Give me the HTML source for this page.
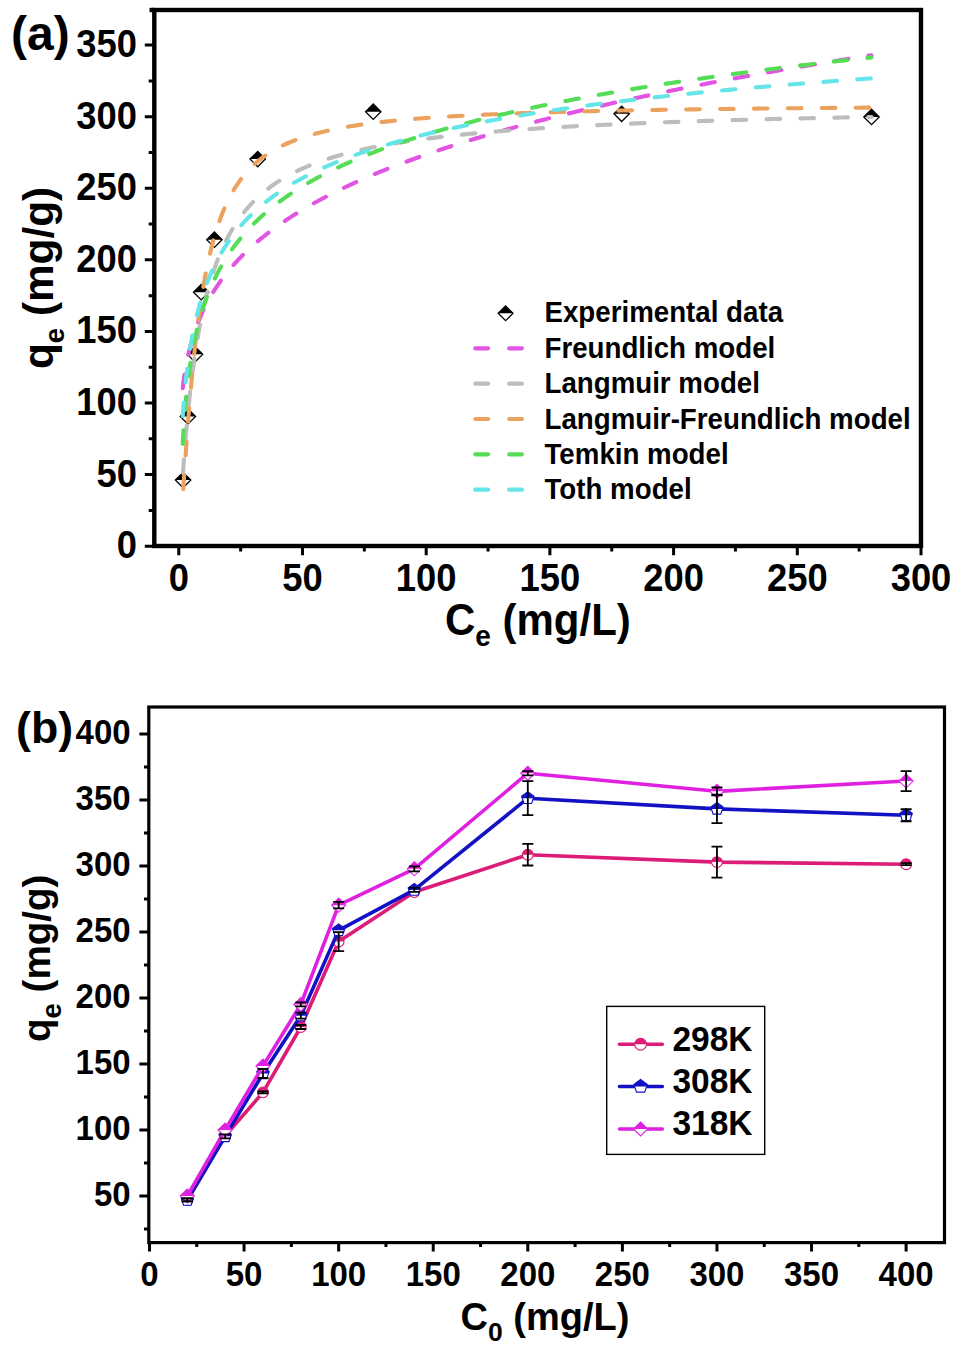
<!DOCTYPE html>
<html><head><meta charset="utf-8"><style>
html,body{margin:0;padding:0;background:#fff;}
svg{display:block;}
</style></head><body>
<svg width="968" height="1353" viewBox="0 0 968 1353" font-family="Liberation Sans, sans-serif" font-weight="bold">
<rect width="968" height="1353" fill="#fff"/>
<path d="M175.40,480.06 L183.10,472.36 L190.80,480.06 Z" fill="#000"/><path d="M175.40,480.06 L183.10,472.36 L190.80,480.06 L183.10,487.76 Z" fill="none" stroke="#000" stroke-width="1.3"/>
<path d="M180.20,416.49 L187.90,408.79 L195.60,416.49 Z" fill="#000"/><path d="M180.20,416.49 L187.90,408.79 L195.60,416.49 L187.90,424.19 Z" fill="none" stroke="#000" stroke-width="1.3"/>
<path d="M187.30,354.35 L195.00,346.65 L202.70,354.35 Z" fill="#000"/><path d="M187.30,354.35 L195.00,346.65 L202.70,354.35 L195.00,362.05 Z" fill="none" stroke="#000" stroke-width="1.3"/>
<path d="M193.49,292.22 L201.19,284.52 L208.89,292.22 Z" fill="#000"/><path d="M193.49,292.22 L201.19,284.52 L208.89,292.22 L201.19,299.92 Z" fill="none" stroke="#000" stroke-width="1.3"/>
<path d="M206.73,239.67 L214.43,231.97 L222.13,239.67 Z" fill="#000"/><path d="M206.73,239.67 L214.43,231.97 L222.13,239.67 L214.43,247.37 Z" fill="none" stroke="#000" stroke-width="1.3"/>
<path d="M250.02,159.07 L257.72,151.37 L265.42,159.07 Z" fill="#000"/><path d="M250.02,159.07 L257.72,151.37 L265.42,159.07 L257.72,166.77 Z" fill="none" stroke="#000" stroke-width="1.3"/>
<path d="M365.56,111.68 L373.26,103.98 L380.96,111.68 Z" fill="#000"/><path d="M365.56,111.68 L373.26,103.98 L380.96,111.68 L373.26,119.38 Z" fill="none" stroke="#000" stroke-width="1.3"/>
<path d="M613.95,113.83 L621.65,106.13 L629.35,113.83 Z" fill="#000"/><path d="M613.95,113.83 L621.65,106.13 L629.35,113.83 L621.65,121.53 Z" fill="none" stroke="#000" stroke-width="1.3"/>
<path d="M863.82,116.98 L871.52,109.28 L879.22,116.98 Z" fill="#000"/><path d="M863.82,116.98 L871.52,109.28 L879.22,116.98 L871.52,124.68 Z" fill="none" stroke="#000" stroke-width="1.3"/>
<g fill="none" stroke-width="4.1" stroke-linecap="round" stroke-dasharray="13.6 20.3">
<path d="M182.76,388.14 L182.82,387.63 L182.88,387.12 L182.94,386.60 L183.00,386.09 L183.06,385.57 L183.12,385.05 L183.19,384.53 L183.25,384.00 L183.32,383.48 L183.39,382.95 L183.45,382.42 L183.52,381.89 L183.59,381.36 L183.66,380.83 L183.74,380.29 L183.81,379.75 L183.88,379.22 L183.96,378.67 L184.04,378.13 L184.11,377.59 L184.19,377.04 L184.27,376.49 L184.35,375.95 L184.44,375.39 L184.52,374.84 L184.61,374.29 L184.69,373.73 L184.78,373.17 L184.87,372.61 L184.96,372.05 L185.05,371.49 L185.14,370.92 L185.24,370.35 L185.33,369.78 L185.43,369.21 L185.53,368.64 L185.63,368.06 L185.73,367.49 L185.83,366.91 L185.94,366.33 L186.04,365.75 L186.15,365.16 L186.26,364.57 L186.37,363.99 L186.48,363.40 L186.59,362.80 L186.71,362.21 L186.83,361.62 L186.95,361.02 L187.07,360.42 L187.19,359.82 L187.31,359.21 L187.44,358.61 L187.57,358.00 L187.70,357.39 L187.83,356.78 L187.97,356.17 L188.10,355.55 L188.24,354.93 L188.38,354.31 L188.52,353.69 L188.67,353.07 L188.81,352.44 L188.96,351.82 L189.11,351.19 L189.26,350.56 L189.42,349.92 L189.58,349.29 L189.74,348.65 L189.90,348.01 L190.06,347.37 L190.23,346.73 L190.40,346.08 L190.57,345.43 L190.75,344.78 L190.93,344.13 L191.11,343.48 L191.29,342.82 L191.47,342.16 L191.66,341.50 L191.85,340.84 L192.05,340.17 L192.24,339.50 L192.44,338.84 L192.64,338.16 L192.85,337.49 L193.06,336.81 L193.27,336.14 L193.48,335.46 L193.70,334.77 L193.92,334.09 L194.15,333.40 L194.38,332.71 L194.61,332.02 L194.84,331.33 L195.08,330.63 L195.32,329.94 L195.57,329.24 L195.81,328.53 L196.07,327.83 L196.32,327.12 L196.58,326.41 L196.85,325.70 L197.11,324.99 L197.39,324.27 L197.66,323.55 L197.94,322.83 L198.23,322.11 L198.51,321.38 L198.81,320.65 L199.10,319.92 L199.41,319.19 L199.71,318.46 L200.02,317.72 L200.34,316.98 L200.66,316.24 L200.98,315.49 L201.31,314.75 L201.64,314.00 L201.98,313.24 L202.33,312.49 L202.68,311.73 L203.03,310.97 L203.39,310.21 L203.75,309.45 L204.12,308.68 L204.50,307.91 L204.88,307.14 L205.27,306.37 L205.66,305.59 L206.06,304.81 L206.46,304.03 L206.87,303.25 L207.29,302.46 L207.71,301.67 L208.14,300.88 L208.58,300.08 L209.02,299.29 L209.47,298.49 L209.92,297.69 L210.39,296.88 L210.85,296.07 L211.33,295.26 L211.81,294.45 L212.30,293.64 L212.80,292.82 L213.30,292.00 L213.82,291.18 L214.34,290.35 L214.86,289.52 L215.40,288.69 L215.94,287.86 L216.49,287.02 L217.05,286.18 L217.62,285.34 L218.20,284.50 L218.78,283.65 L219.37,282.80 L219.98,281.95 L220.59,281.09 L221.21,280.23 L221.84,279.37 L222.47,278.51 L223.12,277.64 L223.78,276.77 L224.45,275.90 L225.13,275.02 L225.81,274.14 L226.51,273.26 L227.22,272.38 L227.94,271.49 L228.67,270.60 L229.41,269.71 L230.16,268.82 L230.92,267.92 L231.69,267.02 L232.48,266.11 L233.27,265.21 L234.08,264.30 L234.90,263.38 L235.73,262.47 L236.58,261.55 L237.44,260.63 L238.31,259.70 L239.19,258.78 L240.09,257.85 L241.00,256.91 L241.92,255.98 L242.85,255.04 L243.81,254.09 L244.77,253.15 L245.75,252.20 L246.74,251.25 L247.75,250.29 L248.77,249.33 L249.81,248.37 L250.87,247.41 L251.93,246.44 L253.02,245.47 L255.09,243.65 L257.16,241.87 L259.23,240.12 L261.29,238.41 L263.36,236.74 L265.43,235.09 L267.50,233.47 L269.57,231.89 L271.64,230.33 L273.71,228.80 L275.77,227.29 L277.84,225.81 L279.91,224.36 L281.98,222.92 L284.05,221.51 L286.12,220.12 L288.19,218.75 L290.25,217.40 L292.32,216.07 L294.39,214.76 L296.46,213.47 L298.53,212.20 L300.60,210.94 L302.67,209.70 L304.73,208.47 L306.80,207.26 L308.87,206.07 L310.94,204.89 L313.01,203.72 L315.08,202.57 L317.15,201.43 L319.21,200.31 L321.28,199.20 L323.35,198.10 L325.42,197.01 L327.49,195.93 L329.56,194.87 L331.63,193.82 L333.69,192.78 L335.76,191.75 L337.83,190.73 L339.90,189.72 L341.97,188.72 L344.04,187.73 L346.11,186.75 L348.17,185.78 L350.24,184.81 L352.31,183.86 L354.38,182.92 L356.45,181.98 L358.52,181.06 L360.59,180.14 L362.65,179.23 L364.72,178.33 L366.79,177.43 L368.86,176.55 L370.93,175.67 L373.00,174.79 L375.07,173.93 L377.13,173.07 L379.20,172.22 L381.27,171.38 L383.34,170.54 L385.41,169.71 L387.48,168.89 L389.55,168.07 L391.61,167.26 L393.68,166.45 L395.75,165.65 L397.82,164.86 L399.89,164.07 L401.96,163.29 L404.03,162.51 L406.09,161.74 L408.16,160.98 L410.23,160.22 L412.30,159.46 L414.37,158.72 L416.44,157.97 L418.50,157.23 L420.57,156.50 L422.64,155.77 L424.71,155.04 L426.78,154.32 L428.85,153.61 L430.92,152.90 L432.98,152.19 L435.05,151.49 L437.12,150.79 L439.19,150.10 L441.26,149.41 L443.33,148.73 L445.40,148.05 L447.46,147.37 L449.53,146.70 L451.60,146.03 L453.67,145.37 L455.74,144.71 L457.81,144.05 L459.88,143.40 L461.94,142.75 L464.01,142.11 L466.08,141.47 L468.15,140.83 L470.22,140.19 L472.29,139.56 L474.36,138.94 L476.42,138.31 L478.49,137.69 L480.56,137.07 L482.63,136.46 L484.70,135.85 L486.77,135.24 L488.84,134.64 L490.90,134.04 L492.97,133.44 L495.04,132.84 L497.11,132.25 L499.18,131.66 L501.25,131.08 L503.32,130.50 L505.38,129.91 L507.45,129.34 L509.52,128.76 L511.59,128.19 L513.66,127.62 L515.73,127.06 L517.80,126.49 L519.86,125.93 L521.93,125.37 L524.00,124.82 L526.07,124.27 L528.14,123.72 L530.21,123.17 L532.28,122.62 L534.34,122.08 L536.41,121.54 L538.48,121.00 L540.55,120.47 L542.62,119.93 L544.69,119.40 L546.76,118.87 L548.82,118.35 L550.89,117.82 L552.96,117.30 L555.03,116.78 L557.10,116.27 L559.17,115.75 L561.24,115.24 L563.30,114.73 L565.37,114.22 L567.44,113.71 L569.51,113.21 L571.58,112.71 L573.65,112.21 L575.72,111.71 L577.78,111.21 L579.85,110.72 L581.92,110.23 L583.99,109.74 L586.06,109.25 L588.13,108.76 L590.20,108.28 L592.26,107.80 L594.33,107.32 L596.40,106.84 L598.47,106.36 L600.54,105.89 L602.61,105.41 L604.68,104.94 L606.74,104.47 L608.81,104.01 L610.88,103.54 L612.95,103.08 L615.02,102.61 L617.09,102.15 L619.16,101.69 L621.22,101.24 L623.29,100.78 L625.36,100.33 L627.43,99.87 L629.50,99.42 L631.57,98.97 L633.64,98.53 L635.70,98.08 L637.77,97.64 L639.84,97.19 L641.91,96.75 L643.98,96.31 L646.05,95.87 L648.12,95.44 L650.18,95.00 L652.25,94.57 L654.32,94.14 L656.39,93.70 L658.46,93.28 L660.53,92.85 L662.60,92.42 L664.66,92.00 L666.73,91.57 L668.80,91.15 L670.87,90.73 L672.94,90.31 L675.01,89.89 L677.08,89.47 L679.14,89.06 L681.21,88.65 L683.28,88.23 L685.35,87.82 L687.42,87.41 L689.49,87.00 L691.56,86.59 L693.62,86.19 L695.69,85.78 L697.76,85.38 L699.83,84.98 L701.90,84.58 L703.97,84.18 L706.04,83.78 L708.10,83.38 L710.17,82.98 L712.24,82.59 L714.31,82.19 L716.38,81.80 L718.45,81.41 L720.51,81.02 L722.58,80.63 L724.65,80.24 L726.72,79.86 L728.79,79.47 L730.86,79.08 L732.93,78.70 L734.99,78.32 L737.06,77.94 L739.13,77.56 L741.20,77.18 L743.27,76.80 L745.34,76.42 L747.41,76.05 L749.47,75.67 L751.54,75.30 L753.61,74.93 L755.68,74.55 L757.75,74.18 L759.82,73.81 L761.89,73.45 L763.95,73.08 L766.02,72.71 L768.09,72.35 L770.16,71.98 L772.23,71.62 L774.30,71.26 L776.37,70.89 L778.43,70.53 L780.50,70.17 L782.57,69.81 L784.64,69.46 L786.71,69.10 L788.78,68.74 L790.85,68.39 L792.91,68.04 L794.98,67.68 L797.05,67.33 L799.12,66.98 L801.19,66.63 L803.26,66.28 L805.33,65.93 L807.39,65.58 L809.46,65.24 L811.53,64.89 L813.60,64.55 L815.67,64.20 L817.74,63.86 L819.81,63.52 L821.87,63.18 L823.94,62.84 L826.01,62.50 L828.08,62.16 L830.15,61.82 L832.22,61.48 L834.29,61.15 L836.35,60.81 L838.42,60.48 L840.49,60.14 L842.56,59.81 L844.63,59.48 L846.70,59.14 L848.77,58.81 L850.83,58.48 L852.90,58.15 L854.97,57.83 L857.04,57.50 L859.11,57.17 L861.18,56.85 L863.25,56.52 L865.31,56.20 L867.38,55.87 L869.45,55.55 L871.52,55.23" stroke="#E254E2"/>
<path d="M183.01,472.92 L183.07,472.03 L183.13,471.14 L183.19,470.23 L183.26,469.32 L183.32,468.40 L183.39,467.47 L183.45,466.53 L183.52,465.59 L183.59,464.63 L183.66,463.67 L183.73,462.70 L183.80,461.71 L183.87,460.72 L183.95,459.72 L184.02,458.72 L184.10,457.70 L184.17,456.67 L184.25,455.64 L184.33,454.60 L184.41,453.54 L184.49,452.48 L184.58,451.41 L184.66,450.33 L184.75,449.25 L184.83,448.15 L184.92,447.04 L185.01,445.93 L185.10,444.81 L185.19,443.68 L185.28,442.54 L185.38,441.39 L185.47,440.23 L185.57,439.06 L185.67,437.89 L185.77,436.70 L185.87,435.51 L185.97,434.31 L186.08,433.10 L186.18,431.88 L186.29,430.65 L186.40,429.42 L186.51,428.17 L186.62,426.92 L186.73,425.66 L186.85,424.39 L186.97,423.11 L187.08,421.83 L187.21,420.53 L187.33,419.23 L187.45,417.92 L187.58,416.60 L187.70,415.28 L187.83,413.94 L187.97,412.60 L188.10,411.25 L188.23,409.90 L188.37,408.53 L188.51,407.16 L188.65,405.78 L188.79,404.40 L188.94,403.00 L189.09,401.60 L189.24,400.19 L189.39,398.78 L189.54,397.36 L189.70,395.93 L189.86,394.50 L190.02,393.05 L190.18,391.61 L190.34,390.15 L190.51,388.69 L190.68,387.23 L190.86,385.75 L191.03,384.28 L191.21,382.79 L191.39,381.30 L191.57,379.81 L191.76,378.31 L191.94,376.80 L192.14,375.29 L192.33,373.78 L192.53,372.26 L192.73,370.73 L192.93,369.20 L193.13,367.67 L193.34,366.13 L193.55,364.59 L193.77,363.04 L193.98,361.49 L194.21,359.94 L194.43,358.38 L194.66,356.82 L194.89,355.26 L195.12,353.69 L195.36,352.12 L195.60,350.55 L195.84,348.97 L196.09,347.39 L196.34,345.81 L196.60,344.23 L196.85,342.65 L197.12,341.06 L197.38,339.47 L197.65,337.89 L197.93,336.29 L198.20,334.70 L198.49,333.11 L198.77,331.52 L199.06,329.92 L199.36,328.33 L199.66,326.73 L199.96,325.14 L200.27,323.54 L200.58,321.95 L200.89,320.35 L201.22,318.76 L201.54,317.16 L201.87,315.57 L202.21,313.98 L202.55,312.39 L202.89,310.80 L203.24,309.21 L203.60,307.62 L203.96,306.04 L204.32,304.46 L204.69,302.88 L205.07,301.30 L205.45,299.72 L205.84,298.15 L206.23,296.58 L206.63,295.01 L207.03,293.45 L207.45,291.89 L207.86,290.33 L208.28,288.77 L208.71,287.22 L209.15,285.68 L209.59,284.13 L210.03,282.59 L210.49,281.06 L210.95,279.53 L211.42,278.00 L211.89,276.48 L212.37,274.97 L212.86,273.46 L213.35,271.95 L213.86,270.45 L214.36,268.95 L214.88,267.46 L215.41,265.98 L215.94,264.50 L216.48,263.03 L217.02,261.56 L217.58,260.10 L218.14,258.64 L218.72,257.20 L219.30,255.75 L219.88,254.32 L220.48,252.89 L221.09,251.47 L221.70,250.05 L222.32,248.64 L222.96,247.24 L223.60,245.85 L224.25,244.46 L224.91,243.08 L225.58,241.71 L226.26,240.34 L226.95,238.98 L227.65,237.63 L228.36,236.29 L229.08,234.96 L229.81,233.63 L230.55,232.31 L231.30,231.00 L232.06,229.69 L232.84,228.40 L233.62,227.11 L234.42,225.83 L235.23,224.56 L236.05,223.30 L236.88,222.05 L237.72,220.80 L238.58,219.57 L239.45,218.34 L240.33,217.12 L241.22,215.91 L242.13,214.70 L243.05,213.51 L243.98,212.32 L244.93,211.15 L245.89,209.98 L246.87,208.82 L247.86,207.67 L248.86,206.52 L249.88,205.39 L250.91,204.27 L251.96,203.15 L253.02,202.05 L255.09,199.96 L257.16,197.96 L259.23,196.05 L261.29,194.21 L263.36,192.44 L265.43,190.74 L267.50,189.10 L269.57,187.53 L271.64,186.01 L273.71,184.54 L275.77,183.13 L277.84,181.76 L279.91,180.45 L281.98,179.17 L284.05,177.94 L286.12,176.75 L288.19,175.59 L290.25,174.47 L292.32,173.39 L294.39,172.33 L296.46,171.31 L298.53,170.32 L300.60,169.36 L302.67,168.43 L304.73,167.52 L306.80,166.63 L308.87,165.77 L310.94,164.94 L313.01,164.13 L315.08,163.33 L317.15,162.56 L319.21,161.81 L321.28,161.08 L323.35,160.36 L325.42,159.66 L327.49,158.98 L329.56,158.32 L331.63,157.67 L333.69,157.04 L335.76,156.42 L337.83,155.82 L339.90,155.23 L341.97,154.65 L344.04,154.09 L346.11,153.54 L348.17,153.00 L350.24,152.47 L352.31,151.95 L354.38,151.45 L356.45,150.95 L358.52,150.46 L360.59,149.99 L362.65,149.52 L364.72,149.07 L366.79,148.62 L368.86,148.18 L370.93,147.75 L373.00,147.33 L375.07,146.91 L377.13,146.51 L379.20,146.11 L381.27,145.72 L383.34,145.33 L385.41,144.96 L387.48,144.59 L389.55,144.22 L391.61,143.87 L393.68,143.52 L395.75,143.17 L397.82,142.83 L399.89,142.50 L401.96,142.17 L404.03,141.85 L406.09,141.53 L408.16,141.22 L410.23,140.92 L412.30,140.61 L414.37,140.32 L416.44,140.03 L418.50,139.74 L420.57,139.46 L422.64,139.18 L424.71,138.90 L426.78,138.63 L428.85,138.37 L430.92,138.11 L432.98,137.85 L435.05,137.60 L437.12,137.35 L439.19,137.10 L441.26,136.86 L443.33,136.62 L445.40,136.38 L447.46,136.15 L449.53,135.92 L451.60,135.70 L453.67,135.47 L455.74,135.25 L457.81,135.04 L459.88,134.82 L461.94,134.61 L464.01,134.40 L466.08,134.20 L468.15,134.00 L470.22,133.80 L472.29,133.60 L474.36,133.41 L476.42,133.21 L478.49,133.02 L480.56,132.84 L482.63,132.65 L484.70,132.47 L486.77,132.29 L488.84,132.11 L490.90,131.94 L492.97,131.76 L495.04,131.59 L497.11,131.42 L499.18,131.26 L501.25,131.09 L503.32,130.93 L505.38,130.77 L507.45,130.61 L509.52,130.45 L511.59,130.29 L513.66,130.14 L515.73,129.99 L517.80,129.84 L519.86,129.69 L521.93,129.54 L524.00,129.40 L526.07,129.25 L528.14,129.11 L530.21,128.97 L532.28,128.83 L534.34,128.69 L536.41,128.56 L538.48,128.42 L540.55,128.29 L542.62,128.16 L544.69,128.03 L546.76,127.90 L548.82,127.77 L550.89,127.65 L552.96,127.52 L555.03,127.40 L557.10,127.28 L559.17,127.16 L561.24,127.04 L563.30,126.92 L565.37,126.80 L567.44,126.69 L569.51,126.57 L571.58,126.46 L573.65,126.34 L575.72,126.23 L577.78,126.12 L579.85,126.01 L581.92,125.90 L583.99,125.80 L586.06,125.69 L588.13,125.59 L590.20,125.48 L592.26,125.38 L594.33,125.28 L596.40,125.18 L598.47,125.08 L600.54,124.98 L602.61,124.88 L604.68,124.78 L606.74,124.68 L608.81,124.59 L610.88,124.49 L612.95,124.40 L615.02,124.31 L617.09,124.21 L619.16,124.12 L621.22,124.03 L623.29,123.94 L625.36,123.85 L627.43,123.77 L629.50,123.68 L631.57,123.59 L633.64,123.51 L635.70,123.42 L637.77,123.34 L639.84,123.25 L641.91,123.17 L643.98,123.09 L646.05,123.01 L648.12,122.92 L650.18,122.84 L652.25,122.76 L654.32,122.69 L656.39,122.61 L658.46,122.53 L660.53,122.45 L662.60,122.38 L664.66,122.30 L666.73,122.23 L668.80,122.15 L670.87,122.08 L672.94,122.00 L675.01,121.93 L677.08,121.86 L679.14,121.79 L681.21,121.72 L683.28,121.65 L685.35,121.58 L687.42,121.51 L689.49,121.44 L691.56,121.37 L693.62,121.30 L695.69,121.23 L697.76,121.17 L699.83,121.10 L701.90,121.04 L703.97,120.97 L706.04,120.91 L708.10,120.84 L710.17,120.78 L712.24,120.72 L714.31,120.65 L716.38,120.59 L718.45,120.53 L720.51,120.47 L722.58,120.41 L724.65,120.35 L726.72,120.29 L728.79,120.23 L730.86,120.17 L732.93,120.11 L734.99,120.05 L737.06,119.99 L739.13,119.93 L741.20,119.88 L743.27,119.82 L745.34,119.76 L747.41,119.71 L749.47,119.65 L751.54,119.60 L753.61,119.54 L755.68,119.49 L757.75,119.43 L759.82,119.38 L761.89,119.33 L763.95,119.27 L766.02,119.22 L768.09,119.17 L770.16,119.12 L772.23,119.07 L774.30,119.02 L776.37,118.96 L778.43,118.91 L780.50,118.86 L782.57,118.81 L784.64,118.76 L786.71,118.72 L788.78,118.67 L790.85,118.62 L792.91,118.57 L794.98,118.52 L797.05,118.47 L799.12,118.43 L801.19,118.38 L803.26,118.33 L805.33,118.29 L807.39,118.24 L809.46,118.20 L811.53,118.15 L813.60,118.10 L815.67,118.06 L817.74,118.02 L819.81,117.97 L821.87,117.93 L823.94,117.88 L826.01,117.84 L828.08,117.80 L830.15,117.75 L832.22,117.71 L834.29,117.67 L836.35,117.63 L838.42,117.58 L840.49,117.54 L842.56,117.50 L844.63,117.46 L846.70,117.42 L848.77,117.38 L850.83,117.34 L852.90,117.30 L854.97,117.26 L857.04,117.22 L859.11,117.18 L861.18,117.14 L863.25,117.10 L865.31,117.06 L867.38,117.02 L869.45,116.98 L871.52,116.95" stroke="#BDBDBD"/>
<path d="M183.25,489.19 L183.32,488.26 L183.38,487.31 L183.45,486.34 L183.51,485.37 L183.58,484.37 L183.65,483.37 L183.72,482.35 L183.79,481.32 L183.86,480.28 L183.93,479.22 L184.00,478.15 L184.08,477.06 L184.15,475.96 L184.23,474.84 L184.31,473.72 L184.38,472.57 L184.46,471.41 L184.54,470.24 L184.63,469.06 L184.71,467.85 L184.79,466.64 L184.88,465.41 L184.96,464.16 L185.05,462.90 L185.14,461.63 L185.23,460.34 L185.32,459.03 L185.42,457.71 L185.51,456.38 L185.61,455.03 L185.70,453.66 L185.80,452.29 L185.90,450.89 L186.00,449.48 L186.10,448.06 L186.21,446.62 L186.31,445.16 L186.42,443.70 L186.53,442.21 L186.64,440.71 L186.75,439.20 L186.86,437.67 L186.98,436.13 L187.10,434.57 L187.21,433.00 L187.33,431.41 L187.45,429.81 L187.58,428.20 L187.70,426.57 L187.83,424.93 L187.96,423.27 L188.09,421.60 L188.22,419.91 L188.35,418.21 L188.49,416.50 L188.63,414.78 L188.77,413.04 L188.91,411.29 L189.05,409.52 L189.20,407.75 L189.35,405.96 L189.50,404.16 L189.65,402.34 L189.81,400.52 L189.96,398.68 L190.12,396.83 L190.28,394.97 L190.45,393.10 L190.61,391.22 L190.78,389.32 L190.95,387.42 L191.12,385.51 L191.30,383.59 L191.48,381.65 L191.66,379.71 L191.84,377.76 L192.03,375.80 L192.21,373.83 L192.41,371.86 L192.60,369.87 L192.80,367.88 L193.00,365.88 L193.20,363.88 L193.40,361.87 L193.61,359.85 L193.82,357.82 L194.04,355.79 L194.25,353.76 L194.47,351.72 L194.70,349.67 L194.92,347.62 L195.15,345.57 L195.38,343.51 L195.62,341.45 L195.86,339.39 L196.10,337.32 L196.35,335.26 L196.60,333.19 L196.85,331.12 L197.11,329.04 L197.37,326.97 L197.63,324.90 L197.90,322.83 L198.17,320.75 L198.45,318.68 L198.73,316.61 L199.01,314.54 L199.30,312.48 L199.59,310.41 L199.89,308.35 L200.19,306.29 L200.49,304.23 L200.80,302.18 L201.12,300.13 L201.43,298.09 L201.76,296.05 L202.08,294.01 L202.41,291.98 L202.75,289.96 L203.09,287.94 L203.44,285.93 L203.79,283.93 L204.14,281.93 L204.51,279.94 L204.87,277.96 L205.24,275.98 L205.62,274.01 L206.00,272.06 L206.39,270.11 L206.78,268.17 L207.18,266.24 L207.58,264.31 L207.99,262.40 L208.41,260.50 L208.83,258.61 L209.26,256.73 L209.69,254.86 L210.13,253.00 L210.58,251.16 L211.03,249.32 L211.49,247.50 L211.95,245.69 L212.43,243.89 L212.91,242.10 L213.39,240.32 L213.88,238.56 L214.38,236.81 L214.89,235.08 L215.40,233.35 L215.92,231.64 L216.45,229.95 L216.99,228.27 L217.53,226.60 L218.08,224.94 L218.64,223.30 L219.21,221.67 L219.79,220.06 L220.37,218.46 L220.96,216.88 L221.56,215.31 L222.17,213.75 L222.79,212.21 L223.42,210.69 L224.05,209.18 L224.69,207.68 L225.35,206.20 L226.01,204.73 L226.68,203.28 L227.36,201.85 L228.06,200.42 L228.76,199.02 L229.47,197.63 L230.19,196.25 L230.92,194.89 L231.66,193.54 L232.42,192.21 L233.18,190.89 L233.95,189.59 L234.74,188.30 L235.54,187.03 L236.34,185.77 L237.16,184.53 L237.99,183.30 L238.84,182.09 L239.69,180.89 L240.56,179.70 L241.44,178.53 L242.33,177.38 L243.23,176.24 L244.15,175.11 L245.08,174.00 L246.03,172.90 L246.98,171.82 L247.95,170.74 L248.94,169.69 L249.94,168.65 L250.95,167.62 L251.98,166.60 L253.02,165.60 L255.09,163.69 L257.16,161.88 L259.23,160.16 L261.29,158.53 L263.36,156.98 L265.43,155.50 L267.50,154.09 L269.57,152.75 L271.64,151.47 L273.71,150.24 L275.77,149.07 L277.84,147.95 L279.91,146.87 L281.98,145.84 L284.05,144.86 L286.12,143.91 L288.19,143.00 L290.25,142.12 L292.32,141.28 L294.39,140.47 L296.46,139.69 L298.53,138.94 L300.60,138.21 L302.67,137.51 L304.73,136.84 L306.80,136.18 L308.87,135.55 L310.94,134.95 L313.01,134.36 L315.08,133.79 L317.15,133.24 L319.21,132.70 L321.28,132.19 L323.35,131.68 L325.42,131.20 L327.49,130.73 L329.56,130.27 L331.63,129.83 L333.69,129.39 L335.76,128.98 L337.83,128.57 L339.90,128.17 L341.97,127.79 L344.04,127.41 L346.11,127.05 L348.17,126.70 L350.24,126.35 L352.31,126.01 L354.38,125.69 L356.45,125.37 L358.52,125.06 L360.59,124.75 L362.65,124.46 L364.72,124.17 L366.79,123.89 L368.86,123.61 L370.93,123.35 L373.00,123.08 L375.07,122.83 L377.13,122.58 L379.20,122.34 L381.27,122.10 L383.34,121.86 L385.41,121.64 L387.48,121.41 L389.55,121.19 L391.61,120.98 L393.68,120.77 L395.75,120.57 L397.82,120.37 L399.89,120.17 L401.96,119.98 L404.03,119.79 L406.09,119.61 L408.16,119.43 L410.23,119.25 L412.30,119.08 L414.37,118.91 L416.44,118.74 L418.50,118.58 L420.57,118.41 L422.64,118.26 L424.71,118.10 L426.78,117.95 L428.85,117.80 L430.92,117.66 L432.98,117.51 L435.05,117.37 L437.12,117.23 L439.19,117.10 L441.26,116.97 L443.33,116.83 L445.40,116.71 L447.46,116.58 L449.53,116.46 L451.60,116.33 L453.67,116.21 L455.74,116.09 L457.81,115.98 L459.88,115.86 L461.94,115.75 L464.01,115.64 L466.08,115.53 L468.15,115.43 L470.22,115.32 L472.29,115.22 L474.36,115.12 L476.42,115.02 L478.49,114.92 L480.56,114.82 L482.63,114.72 L484.70,114.63 L486.77,114.54 L488.84,114.44 L490.90,114.35 L492.97,114.27 L495.04,114.18 L497.11,114.09 L499.18,114.01 L501.25,113.92 L503.32,113.84 L505.38,113.76 L507.45,113.68 L509.52,113.60 L511.59,113.52 L513.66,113.45 L515.73,113.37 L517.80,113.30 L519.86,113.22 L521.93,113.15 L524.00,113.08 L526.07,113.01 L528.14,112.94 L530.21,112.87 L532.28,112.80 L534.34,112.73 L536.41,112.67 L538.48,112.60 L540.55,112.54 L542.62,112.48 L544.69,112.41 L546.76,112.35 L548.82,112.29 L550.89,112.23 L552.96,112.17 L555.03,112.11 L557.10,112.05 L559.17,112.00 L561.24,111.94 L563.30,111.88 L565.37,111.83 L567.44,111.77 L569.51,111.72 L571.58,111.67 L573.65,111.61 L575.72,111.56 L577.78,111.51 L579.85,111.46 L581.92,111.41 L583.99,111.36 L586.06,111.31 L588.13,111.26 L590.20,111.21 L592.26,111.17 L594.33,111.12 L596.40,111.07 L598.47,111.03 L600.54,110.98 L602.61,110.94 L604.68,110.89 L606.74,110.85 L608.81,110.80 L610.88,110.76 L612.95,110.72 L615.02,110.68 L617.09,110.64 L619.16,110.59 L621.22,110.55 L623.29,110.51 L625.36,110.47 L627.43,110.44 L629.50,110.40 L631.57,110.36 L633.64,110.32 L635.70,110.28 L637.77,110.24 L639.84,110.21 L641.91,110.17 L643.98,110.13 L646.05,110.10 L648.12,110.06 L650.18,110.03 L652.25,109.99 L654.32,109.96 L656.39,109.92 L658.46,109.89 L660.53,109.86 L662.60,109.82 L664.66,109.79 L666.73,109.76 L668.80,109.73 L670.87,109.70 L672.94,109.66 L675.01,109.63 L677.08,109.60 L679.14,109.57 L681.21,109.54 L683.28,109.51 L685.35,109.48 L687.42,109.45 L689.49,109.42 L691.56,109.39 L693.62,109.36 L695.69,109.34 L697.76,109.31 L699.83,109.28 L701.90,109.25 L703.97,109.23 L706.04,109.20 L708.10,109.17 L710.17,109.14 L712.24,109.12 L714.31,109.09 L716.38,109.07 L718.45,109.04 L720.51,109.01 L722.58,108.99 L724.65,108.96 L726.72,108.94 L728.79,108.91 L730.86,108.89 L732.93,108.87 L734.99,108.84 L737.06,108.82 L739.13,108.79 L741.20,108.77 L743.27,108.75 L745.34,108.73 L747.41,108.70 L749.47,108.68 L751.54,108.66 L753.61,108.63 L755.68,108.61 L757.75,108.59 L759.82,108.57 L761.89,108.55 L763.95,108.53 L766.02,108.51 L768.09,108.48 L770.16,108.46 L772.23,108.44 L774.30,108.42 L776.37,108.40 L778.43,108.38 L780.50,108.36 L782.57,108.34 L784.64,108.32 L786.71,108.30 L788.78,108.28 L790.85,108.26 L792.91,108.24 L794.98,108.23 L797.05,108.21 L799.12,108.19 L801.19,108.17 L803.26,108.15 L805.33,108.13 L807.39,108.11 L809.46,108.10 L811.53,108.08 L813.60,108.06 L815.67,108.04 L817.74,108.03 L819.81,108.01 L821.87,107.99 L823.94,107.97 L826.01,107.96 L828.08,107.94 L830.15,107.92 L832.22,107.91 L834.29,107.89 L836.35,107.87 L838.42,107.86 L840.49,107.84 L842.56,107.83 L844.63,107.81 L846.70,107.79 L848.77,107.78 L850.83,107.76 L852.90,107.75 L854.97,107.73 L857.04,107.72 L859.11,107.70 L861.18,107.69 L863.25,107.67 L865.31,107.66 L867.38,107.64 L869.45,107.63 L871.52,107.61" stroke="#EBA25E"/>
<path d="M182.76,443.80 L182.82,442.70 L182.88,441.59 L182.94,440.49 L183.00,439.39 L183.06,438.29 L183.12,437.19 L183.19,436.08 L183.25,434.98 L183.32,433.88 L183.39,432.78 L183.45,431.68 L183.52,430.57 L183.59,429.47 L183.66,428.37 L183.74,427.27 L183.81,426.17 L183.88,425.06 L183.96,423.96 L184.04,422.86 L184.11,421.76 L184.19,420.66 L184.27,419.55 L184.35,418.45 L184.44,417.35 L184.52,416.25 L184.61,415.15 L184.69,414.04 L184.78,412.94 L184.87,411.84 L184.96,410.74 L185.05,409.64 L185.14,408.53 L185.24,407.43 L185.33,406.33 L185.43,405.23 L185.53,404.13 L185.63,403.02 L185.73,401.92 L185.83,400.82 L185.94,399.72 L186.04,398.62 L186.15,397.51 L186.26,396.41 L186.37,395.31 L186.48,394.21 L186.59,393.11 L186.71,392.01 L186.83,390.90 L186.95,389.80 L187.07,388.70 L187.19,387.60 L187.31,386.50 L187.44,385.39 L187.57,384.29 L187.70,383.19 L187.83,382.09 L187.97,380.99 L188.10,379.88 L188.24,378.78 L188.38,377.68 L188.52,376.58 L188.67,375.48 L188.81,374.37 L188.96,373.27 L189.11,372.17 L189.26,371.07 L189.42,369.97 L189.58,368.86 L189.74,367.76 L189.90,366.66 L190.06,365.56 L190.23,364.46 L190.40,363.35 L190.57,362.25 L190.75,361.15 L190.93,360.05 L191.11,358.95 L191.29,357.84 L191.47,356.74 L191.66,355.64 L191.85,354.54 L192.05,353.44 L192.24,352.33 L192.44,351.23 L192.64,350.13 L192.85,349.03 L193.06,347.93 L193.27,346.82 L193.48,345.72 L193.70,344.62 L193.92,343.52 L194.15,342.42 L194.38,341.31 L194.61,340.21 L194.84,339.11 L195.08,338.01 L195.32,336.91 L195.57,335.80 L195.81,334.70 L196.07,333.60 L196.32,332.50 L196.58,331.40 L196.85,330.29 L197.11,329.19 L197.39,328.09 L197.66,326.99 L197.94,325.89 L198.23,324.78 L198.51,323.68 L198.81,322.58 L199.10,321.48 L199.41,320.38 L199.71,319.27 L200.02,318.17 L200.34,317.07 L200.66,315.97 L200.98,314.87 L201.31,313.76 L201.64,312.66 L201.98,311.56 L202.33,310.46 L202.68,309.36 L203.03,308.26 L203.39,307.15 L203.75,306.05 L204.12,304.95 L204.50,303.85 L204.88,302.75 L205.27,301.64 L205.66,300.54 L206.06,299.44 L206.46,298.34 L206.87,297.24 L207.29,296.13 L207.71,295.03 L208.14,293.93 L208.58,292.83 L209.02,291.73 L209.47,290.62 L209.92,289.52 L210.39,288.42 L210.85,287.32 L211.33,286.22 L211.81,285.11 L212.30,284.01 L212.80,282.91 L213.30,281.81 L213.82,280.71 L214.34,279.60 L214.86,278.50 L215.40,277.40 L215.94,276.30 L216.49,275.20 L217.05,274.09 L217.62,272.99 L218.20,271.89 L218.78,270.79 L219.37,269.69 L219.98,268.58 L220.59,267.48 L221.21,266.38 L221.84,265.28 L222.47,264.18 L223.12,263.07 L223.78,261.97 L224.45,260.87 L225.13,259.77 L225.81,258.67 L226.51,257.56 L227.22,256.46 L227.94,255.36 L228.67,254.26 L229.41,253.16 L230.16,252.05 L230.92,250.95 L231.69,249.85 L232.48,248.75 L233.27,247.65 L234.08,246.54 L234.90,245.44 L235.73,244.34 L236.58,243.24 L237.44,242.14 L238.31,241.03 L239.19,239.93 L240.09,238.83 L241.00,237.73 L241.92,236.63 L242.85,235.52 L243.81,234.42 L244.77,233.32 L245.75,232.22 L246.74,231.12 L247.75,230.01 L248.77,228.91 L249.81,227.81 L250.87,226.71 L251.93,225.61 L253.02,224.51 L255.09,222.45 L257.16,220.45 L259.23,218.50 L261.29,216.60 L263.36,214.74 L265.43,212.94 L267.50,211.17 L269.57,209.45 L271.64,207.76 L273.71,206.11 L275.77,204.50 L277.84,202.92 L279.91,201.37 L281.98,199.86 L284.05,198.37 L286.12,196.92 L288.19,195.49 L290.25,194.09 L292.32,192.71 L294.39,191.36 L296.46,190.03 L298.53,188.73 L300.60,187.45 L302.67,186.19 L304.73,184.95 L306.80,183.73 L308.87,182.53 L310.94,181.35 L313.01,180.19 L315.08,179.04 L317.15,177.92 L319.21,176.81 L321.28,175.71 L323.35,174.63 L325.42,173.57 L327.49,172.52 L329.56,171.49 L331.63,170.47 L333.69,169.46 L335.76,168.47 L337.83,167.49 L339.90,166.53 L341.97,165.57 L344.04,164.63 L346.11,163.70 L348.17,162.78 L350.24,161.87 L352.31,160.97 L354.38,160.09 L356.45,159.21 L358.52,158.34 L360.59,157.49 L362.65,156.64 L364.72,155.80 L366.79,154.98 L368.86,154.16 L370.93,153.35 L373.00,152.55 L375.07,151.75 L377.13,150.97 L379.20,150.19 L381.27,149.43 L383.34,148.66 L385.41,147.91 L387.48,147.17 L389.55,146.43 L391.61,145.70 L393.68,144.97 L395.75,144.26 L397.82,143.55 L399.89,142.84 L401.96,142.15 L404.03,141.46 L406.09,140.77 L408.16,140.10 L410.23,139.42 L412.30,138.76 L414.37,138.10 L416.44,137.44 L418.50,136.80 L420.57,136.15 L422.64,135.52 L424.71,134.88 L426.78,134.26 L428.85,133.64 L430.92,133.02 L432.98,132.41 L435.05,131.80 L437.12,131.20 L439.19,130.60 L441.26,130.01 L443.33,129.42 L445.40,128.84 L447.46,128.26 L449.53,127.69 L451.60,127.12 L453.67,126.55 L455.74,125.99 L457.81,125.44 L459.88,124.88 L461.94,124.34 L464.01,123.79 L466.08,123.25 L468.15,122.71 L470.22,122.18 L472.29,121.65 L474.36,121.13 L476.42,120.60 L478.49,120.09 L480.56,119.57 L482.63,119.06 L484.70,118.55 L486.77,118.05 L488.84,117.55 L490.90,117.05 L492.97,116.56 L495.04,116.06 L497.11,115.58 L499.18,115.09 L501.25,114.61 L503.32,114.13 L505.38,113.66 L507.45,113.18 L509.52,112.72 L511.59,112.25 L513.66,111.79 L515.73,111.32 L517.80,110.87 L519.86,110.41 L521.93,109.96 L524.00,109.51 L526.07,109.06 L528.14,108.62 L530.21,108.18 L532.28,107.74 L534.34,107.30 L536.41,106.87 L538.48,106.44 L540.55,106.01 L542.62,105.58 L544.69,105.16 L546.76,104.73 L548.82,104.31 L550.89,103.90 L552.96,103.48 L555.03,103.07 L557.10,102.66 L559.17,102.25 L561.24,101.85 L563.30,101.44 L565.37,101.04 L567.44,100.64 L569.51,100.24 L571.58,99.85 L573.65,99.46 L575.72,99.07 L577.78,98.68 L579.85,98.29 L581.92,97.91 L583.99,97.52 L586.06,97.14 L588.13,96.76 L590.20,96.39 L592.26,96.01 L594.33,95.64 L596.40,95.27 L598.47,94.90 L600.54,94.53 L602.61,94.16 L604.68,93.80 L606.74,93.43 L608.81,93.07 L610.88,92.72 L612.95,92.36 L615.02,92.00 L617.09,91.65 L619.16,91.30 L621.22,90.95 L623.29,90.60 L625.36,90.25 L627.43,89.90 L629.50,89.56 L631.57,89.22 L633.64,88.88 L635.70,88.54 L637.77,88.20 L639.84,87.86 L641.91,87.53 L643.98,87.19 L646.05,86.86 L648.12,86.53 L650.18,86.20 L652.25,85.87 L654.32,85.55 L656.39,85.22 L658.46,84.90 L660.53,84.58 L662.60,84.26 L664.66,83.94 L666.73,83.62 L668.80,83.30 L670.87,82.99 L672.94,82.68 L675.01,82.36 L677.08,82.05 L679.14,81.74 L681.21,81.43 L683.28,81.13 L685.35,80.82 L687.42,80.51 L689.49,80.21 L691.56,79.91 L693.62,79.61 L695.69,79.31 L697.76,79.01 L699.83,78.71 L701.90,78.41 L703.97,78.12 L706.04,77.82 L708.10,77.53 L710.17,77.24 L712.24,76.95 L714.31,76.66 L716.38,76.37 L718.45,76.08 L720.51,75.80 L722.58,75.51 L724.65,75.23 L726.72,74.95 L728.79,74.66 L730.86,74.38 L732.93,74.10 L734.99,73.82 L737.06,73.55 L739.13,73.27 L741.20,72.99 L743.27,72.72 L745.34,72.45 L747.41,72.17 L749.47,71.90 L751.54,71.63 L753.61,71.36 L755.68,71.09 L757.75,70.82 L759.82,70.56 L761.89,70.29 L763.95,70.03 L766.02,69.76 L768.09,69.50 L770.16,69.24 L772.23,68.98 L774.30,68.72 L776.37,68.46 L778.43,68.20 L780.50,67.94 L782.57,67.68 L784.64,67.43 L786.71,67.17 L788.78,66.92 L790.85,66.67 L792.91,66.41 L794.98,66.16 L797.05,65.91 L799.12,65.66 L801.19,65.41 L803.26,65.16 L805.33,64.92 L807.39,64.67 L809.46,64.42 L811.53,64.18 L813.60,63.93 L815.67,63.69 L817.74,63.45 L819.81,63.21 L821.87,62.97 L823.94,62.73 L826.01,62.49 L828.08,62.25 L830.15,62.01 L832.22,61.77 L834.29,61.54 L836.35,61.30 L838.42,61.06 L840.49,60.83 L842.56,60.60 L844.63,60.36 L846.70,60.13 L848.77,59.90 L850.83,59.67 L852.90,59.44 L854.97,59.21 L857.04,58.98 L859.11,58.75 L861.18,58.53 L863.25,58.30 L865.31,58.08 L867.38,57.85 L869.45,57.63 L871.52,57.40" stroke="#55DD55"/>
<path d="M182.76,416.05 L182.82,415.19 L182.88,414.33 L182.94,413.47 L183.00,412.60 L183.06,411.74 L183.12,410.87 L183.19,409.99 L183.25,409.12 L183.32,408.24 L183.39,407.35 L183.45,406.47 L183.52,405.58 L183.59,404.69 L183.66,403.80 L183.74,402.90 L183.81,402.00 L183.88,401.10 L183.96,400.20 L184.04,399.29 L184.11,398.38 L184.19,397.47 L184.27,396.55 L184.35,395.63 L184.44,394.71 L184.52,393.79 L184.61,392.86 L184.69,391.93 L184.78,391.00 L184.87,390.07 L184.96,389.13 L185.05,388.20 L185.14,387.25 L185.24,386.31 L185.33,385.37 L185.43,384.42 L185.53,383.47 L185.63,382.51 L185.73,381.56 L185.83,380.60 L185.94,379.64 L186.04,378.68 L186.15,377.71 L186.26,376.74 L186.37,375.78 L186.48,374.80 L186.59,373.83 L186.71,372.85 L186.83,371.88 L186.95,370.90 L187.07,369.91 L187.19,368.93 L187.31,367.94 L187.44,366.95 L187.57,365.96 L187.70,364.97 L187.83,363.98 L187.97,362.98 L188.10,361.98 L188.24,360.98 L188.38,359.98 L188.52,358.97 L188.67,357.97 L188.81,356.96 L188.96,355.95 L189.11,354.94 L189.26,353.92 L189.42,352.91 L189.58,351.89 L189.74,350.87 L189.90,349.85 L190.06,348.83 L190.23,347.81 L190.40,346.78 L190.57,345.75 L190.75,344.73 L190.93,343.70 L191.11,342.66 L191.29,341.63 L191.47,340.60 L191.66,339.56 L191.85,338.52 L192.05,337.49 L192.24,336.45 L192.44,335.40 L192.64,334.36 L192.85,333.32 L193.06,332.27 L193.27,331.23 L193.48,330.18 L193.70,329.13 L193.92,328.08 L194.15,327.03 L194.38,325.98 L194.61,324.92 L194.84,323.87 L195.08,322.81 L195.32,321.76 L195.57,320.70 L195.81,319.64 L196.07,318.58 L196.32,317.52 L196.58,316.46 L196.85,315.40 L197.11,314.33 L197.39,313.27 L197.66,312.21 L197.94,311.14 L198.23,310.07 L198.51,309.01 L198.81,307.94 L199.10,306.87 L199.41,305.80 L199.71,304.73 L200.02,303.66 L200.34,302.59 L200.66,301.52 L200.98,300.45 L201.31,299.38 L201.64,298.31 L201.98,297.23 L202.33,296.16 L202.68,295.08 L203.03,294.01 L203.39,292.94 L203.75,291.86 L204.12,290.79 L204.50,289.71 L204.88,288.63 L205.27,287.56 L205.66,286.48 L206.06,285.40 L206.46,284.33 L206.87,283.25 L207.29,282.17 L207.71,281.10 L208.14,280.02 L208.58,278.94 L209.02,277.87 L209.47,276.79 L209.92,275.71 L210.39,274.64 L210.85,273.56 L211.33,272.48 L211.81,271.41 L212.30,270.33 L212.80,269.25 L213.30,268.18 L213.82,267.10 L214.34,266.02 L214.86,264.95 L215.40,263.87 L215.94,262.80 L216.49,261.73 L217.05,260.65 L217.62,259.58 L218.20,258.50 L218.78,257.43 L219.37,256.36 L219.98,255.29 L220.59,254.22 L221.21,253.15 L221.84,252.08 L222.47,251.01 L223.12,249.94 L223.78,248.87 L224.45,247.80 L225.13,246.73 L225.81,245.67 L226.51,244.60 L227.22,243.54 L227.94,242.47 L228.67,241.41 L229.41,240.34 L230.16,239.28 L230.92,238.22 L231.69,237.16 L232.48,236.10 L233.27,235.04 L234.08,233.99 L234.90,232.93 L235.73,231.87 L236.58,230.82 L237.44,229.76 L238.31,228.71 L239.19,227.66 L240.09,226.61 L241.00,225.56 L241.92,224.51 L242.85,223.46 L243.81,222.42 L244.77,221.37 L245.75,220.33 L246.74,219.28 L247.75,218.24 L248.77,217.20 L249.81,216.16 L250.87,215.12 L251.93,214.09 L253.02,213.05 L255.09,211.12 L257.16,209.25 L259.23,207.43 L261.29,205.66 L263.36,203.94 L265.43,202.26 L267.50,200.63 L269.57,199.04 L271.64,197.49 L273.71,195.98 L275.77,194.50 L277.84,193.05 L279.91,191.64 L281.98,190.27 L284.05,188.92 L286.12,187.60 L288.19,186.31 L290.25,185.04 L292.32,183.81 L294.39,182.59 L296.46,181.41 L298.53,180.24 L300.60,179.10 L302.67,177.98 L304.73,176.88 L306.80,175.80 L308.87,174.73 L310.94,173.69 L313.01,172.67 L315.08,171.66 L317.15,170.67 L319.21,169.70 L321.28,168.75 L323.35,167.81 L325.42,166.88 L327.49,165.97 L329.56,165.08 L331.63,164.19 L333.69,163.33 L335.76,162.47 L337.83,161.63 L339.90,160.80 L341.97,159.98 L344.04,159.17 L346.11,158.38 L348.17,157.60 L350.24,156.82 L352.31,156.06 L354.38,155.31 L356.45,154.57 L358.52,153.84 L360.59,153.12 L362.65,152.41 L364.72,151.70 L366.79,151.01 L368.86,150.32 L370.93,149.65 L373.00,148.98 L375.07,148.32 L377.13,147.67 L379.20,147.02 L381.27,146.39 L383.34,145.76 L385.41,145.14 L387.48,144.52 L389.55,143.91 L391.61,143.31 L393.68,142.72 L395.75,142.13 L397.82,141.55 L399.89,140.98 L401.96,140.41 L404.03,139.85 L406.09,139.29 L408.16,138.74 L410.23,138.20 L412.30,137.66 L414.37,137.13 L416.44,136.60 L418.50,136.08 L420.57,135.56 L422.64,135.05 L424.71,134.54 L426.78,134.04 L428.85,133.54 L430.92,133.05 L432.98,132.57 L435.05,132.08 L437.12,131.61 L439.19,131.13 L441.26,130.66 L443.33,130.20 L445.40,129.74 L447.46,129.28 L449.53,128.83 L451.60,128.38 L453.67,127.94 L455.74,127.50 L457.81,127.06 L459.88,126.63 L461.94,126.20 L464.01,125.77 L466.08,125.35 L468.15,124.94 L470.22,124.52 L472.29,124.11 L474.36,123.70 L476.42,123.30 L478.49,122.90 L480.56,122.50 L482.63,122.11 L484.70,121.72 L486.77,121.33 L488.84,120.94 L490.90,120.56 L492.97,120.18 L495.04,119.81 L497.11,119.43 L499.18,119.06 L501.25,118.70 L503.32,118.33 L505.38,117.97 L507.45,117.61 L509.52,117.26 L511.59,116.90 L513.66,116.55 L515.73,116.20 L517.80,115.86 L519.86,115.51 L521.93,115.17 L524.00,114.84 L526.07,114.50 L528.14,114.17 L530.21,113.84 L532.28,113.51 L534.34,113.18 L536.41,112.86 L538.48,112.53 L540.55,112.21 L542.62,111.90 L544.69,111.58 L546.76,111.27 L548.82,110.96 L550.89,110.65 L552.96,110.34 L555.03,110.03 L557.10,109.73 L559.17,109.43 L561.24,109.13 L563.30,108.83 L565.37,108.54 L567.44,108.25 L569.51,107.95 L571.58,107.66 L573.65,107.38 L575.72,107.09 L577.78,106.81 L579.85,106.52 L581.92,106.24 L583.99,105.96 L586.06,105.69 L588.13,105.41 L590.20,105.14 L592.26,104.87 L594.33,104.59 L596.40,104.33 L598.47,104.06 L600.54,103.79 L602.61,103.53 L604.68,103.27 L606.74,103.00 L608.81,102.75 L610.88,102.49 L612.95,102.23 L615.02,101.98 L617.09,101.72 L619.16,101.47 L621.22,101.22 L623.29,100.97 L625.36,100.72 L627.43,100.47 L629.50,100.23 L631.57,99.99 L633.64,99.74 L635.70,99.50 L637.77,99.26 L639.84,99.02 L641.91,98.79 L643.98,98.55 L646.05,98.32 L648.12,98.08 L650.18,97.85 L652.25,97.62 L654.32,97.39 L656.39,97.16 L658.46,96.93 L660.53,96.71 L662.60,96.48 L664.66,96.26 L666.73,96.04 L668.80,95.81 L670.87,95.59 L672.94,95.37 L675.01,95.16 L677.08,94.94 L679.14,94.72 L681.21,94.51 L683.28,94.30 L685.35,94.08 L687.42,93.87 L689.49,93.66 L691.56,93.45 L693.62,93.24 L695.69,93.03 L697.76,92.83 L699.83,92.62 L701.90,92.42 L703.97,92.21 L706.04,92.01 L708.10,91.81 L710.17,91.61 L712.24,91.41 L714.31,91.21 L716.38,91.01 L718.45,90.82 L720.51,90.62 L722.58,90.43 L724.65,90.23 L726.72,90.04 L728.79,89.85 L730.86,89.65 L732.93,89.46 L734.99,89.27 L737.06,89.09 L739.13,88.90 L741.20,88.71 L743.27,88.52 L745.34,88.34 L747.41,88.15 L749.47,87.97 L751.54,87.79 L753.61,87.60 L755.68,87.42 L757.75,87.24 L759.82,87.06 L761.89,86.88 L763.95,86.70 L766.02,86.53 L768.09,86.35 L770.16,86.17 L772.23,86.00 L774.30,85.82 L776.37,85.65 L778.43,85.48 L780.50,85.31 L782.57,85.13 L784.64,84.96 L786.71,84.79 L788.78,84.62 L790.85,84.46 L792.91,84.29 L794.98,84.12 L797.05,83.95 L799.12,83.79 L801.19,83.62 L803.26,83.46 L805.33,83.29 L807.39,83.13 L809.46,82.97 L811.53,82.81 L813.60,82.64 L815.67,82.48 L817.74,82.32 L819.81,82.16 L821.87,82.01 L823.94,81.85 L826.01,81.69 L828.08,81.53 L830.15,81.38 L832.22,81.22 L834.29,81.07 L836.35,80.91 L838.42,80.76 L840.49,80.60 L842.56,80.45 L844.63,80.30 L846.70,80.15 L848.77,80.00 L850.83,79.85 L852.90,79.70 L854.97,79.55 L857.04,79.40 L859.11,79.25 L861.18,79.10 L863.25,78.96 L865.31,78.81 L867.38,78.66 L869.45,78.52 L871.52,78.37" stroke="#66E5E8"/>
</g>
<rect x="154.3" y="10.0" width="766.7" height="536.0" fill="none" stroke="#000" stroke-width="4.4"/>
<rect x="149.5" y="7.8" width="4.800000000000011" height="4.4" fill="#000"/>
<path d="M144.8,546.20 H154.3 M148.70000000000002,510.41 H154.3 M144.8,474.62 H154.3 M148.70000000000002,438.82 H154.3 M144.8,403.03 H154.3 M148.70000000000002,367.24 H154.3 M144.8,331.45 H154.3 M148.70000000000002,295.65 H154.3 M144.8,259.86 H154.3 M148.70000000000002,224.07 H154.3 M144.8,188.28 H154.3 M148.70000000000002,152.48 H154.3 M144.8,116.69 H154.3 M148.70000000000002,80.90 H154.3 M144.8,45.11 H154.3 M178.80,546.0 V555.2 M240.65,546.0 V551.5 M302.50,546.0 V555.2 M364.35,546.0 V551.5 M426.20,546.0 V555.2 M488.05,546.0 V551.5 M549.90,546.0 V555.2 M611.75,546.0 V551.5 M673.60,546.0 V555.2 M735.45,546.0 V551.5 M797.30,546.0 V555.2 M859.15,546.0 V551.5 M921.00,546.0 V555.2" stroke="#000" stroke-width="3" fill="none"/>
<text transform="translate(137.00,558.10) scale(0.983,1.038)" font-size="37" text-anchor="end">0</text>
<text transform="translate(137.00,486.52) scale(0.983,1.038)" font-size="37" text-anchor="end">50</text>
<text transform="translate(137.00,414.93) scale(0.983,1.038)" font-size="37" text-anchor="end">100</text>
<text transform="translate(137.00,343.35) scale(0.983,1.038)" font-size="37" text-anchor="end">150</text>
<text transform="translate(137.00,271.76) scale(0.983,1.038)" font-size="37" text-anchor="end">200</text>
<text transform="translate(137.00,200.18) scale(0.983,1.038)" font-size="37" text-anchor="end">250</text>
<text transform="translate(137.00,128.59) scale(0.983,1.038)" font-size="37" text-anchor="end">300</text>
<text transform="translate(137.00,57.01) scale(0.983,1.038)" font-size="37" text-anchor="end">350</text>
<text transform="translate(178.80,591.30) scale(0.983,1.038)" font-size="37" text-anchor="middle">0</text>
<text transform="translate(302.50,591.30) scale(0.983,1.038)" font-size="37" text-anchor="middle">50</text>
<text transform="translate(426.20,591.30) scale(0.983,1.038)" font-size="37" text-anchor="middle">100</text>
<text transform="translate(549.90,591.30) scale(0.983,1.038)" font-size="37" text-anchor="middle">150</text>
<text transform="translate(673.60,591.30) scale(0.983,1.038)" font-size="37" text-anchor="middle">200</text>
<text transform="translate(797.30,591.30) scale(0.983,1.038)" font-size="37" text-anchor="middle">250</text>
<text transform="translate(921.00,591.30) scale(0.983,1.038)" font-size="37" text-anchor="middle">300</text>
<text transform="translate(445.00,634.50) scale(1.0,1.045)" font-size="42">C<tspan font-size="28" dy="10.6">e</tspan><tspan dy="-10.6"> (mg/L)</tspan></text>
<text transform="translate(53.2,369) rotate(-90)" font-size="42.3">q<tspan font-size="27.5" dy="11">e</tspan><tspan dy="-11"> (mg/g)</tspan></text>
<text transform="translate(11.00,49.50) scale(1.0,1.0)" font-size="48">(a)</text>
<path d="M498.20,313.30 L505.60,305.90 L513.00,313.30 Z" fill="#000"/><path d="M498.20,313.30 L505.60,305.90 L513.00,313.30 L505.60,320.70 Z" fill="none" stroke="#000" stroke-width="1.3"/>
<text transform="translate(544.50,322.30) scale(1.0,1.04)" font-size="27.7">Experimental data</text>
<path d="M475.3,348.30 H488.1 M509.2,348.30 H521.9" stroke="#E254E2" stroke-width="4.2" stroke-linecap="round"/>
<text transform="translate(544.50,357.80) scale(1.0,1.04)" font-size="27.7">Freundlich model</text>
<path d="M475.3,383.65 H488.1 M509.2,383.65 H521.9" stroke="#BDBDBD" stroke-width="4.2" stroke-linecap="round"/>
<text transform="translate(544.50,393.15) scale(1.0,1.04)" font-size="27.7">Langmuir model</text>
<path d="M475.3,419.00 H488.1 M509.2,419.00 H521.9" stroke="#EBA25E" stroke-width="4.2" stroke-linecap="round"/>
<text transform="translate(544.50,428.50) scale(1.0,1.04)" font-size="27.7">Langmuir-Freundlich model</text>
<path d="M475.3,454.35 H488.1 M509.2,454.35 H521.9" stroke="#55DD55" stroke-width="4.2" stroke-linecap="round"/>
<text transform="translate(544.50,463.85) scale(1.0,1.04)" font-size="27.7">Temkin model</text>
<path d="M475.3,489.70 H488.1 M509.2,489.70 H521.9" stroke="#66E5E8" stroke-width="4.2" stroke-linecap="round"/>
<text transform="translate(544.50,499.20) scale(1.0,1.04)" font-size="27.7">Toth model</text>
<path d="M187.33,1199.96 L225.16,1135.93 L262.99,1092.36 L300.82,1027.00 L338.65,941.58 L414.31,892.07 L527.80,854.70 L716.95,862.10 L906.10,864.21" fill="none" stroke="#DC1C76" stroke-width="3.6" stroke-linejoin="round"/>
<circle cx="187.33" cy="1199.96" r="5.4" fill="#fff" stroke="#DC1C76" stroke-width="1.1"/><path d="M181.93,1199.96 A5.4,5.4 0 0 1 192.73,1199.96 Z" fill="#DC1C76"/>
<circle cx="225.16" cy="1135.93" r="5.4" fill="#fff" stroke="#DC1C76" stroke-width="1.1"/><path d="M219.76,1135.93 A5.4,5.4 0 0 1 230.56,1135.93 Z" fill="#DC1C76"/>
<circle cx="262.99" cy="1092.36" r="5.4" fill="#fff" stroke="#DC1C76" stroke-width="1.1"/><path d="M257.59,1092.36 A5.4,5.4 0 0 1 268.39,1092.36 Z" fill="#DC1C76"/>
<circle cx="300.82" cy="1027.00" r="5.4" fill="#fff" stroke="#DC1C76" stroke-width="1.1"/><path d="M295.42,1027.00 A5.4,5.4 0 0 1 306.22,1027.00 Z" fill="#DC1C76"/>
<circle cx="338.65" cy="941.58" r="5.4" fill="#fff" stroke="#DC1C76" stroke-width="1.1"/><path d="M333.25,941.58 A5.4,5.4 0 0 1 344.05,941.58 Z" fill="#DC1C76"/>
<circle cx="414.31" cy="892.07" r="5.4" fill="#fff" stroke="#DC1C76" stroke-width="1.1"/><path d="M408.91,892.07 A5.4,5.4 0 0 1 419.71,892.07 Z" fill="#DC1C76"/>
<circle cx="527.80" cy="854.70" r="5.4" fill="#fff" stroke="#DC1C76" stroke-width="1.1"/><path d="M522.40,854.70 A5.4,5.4 0 0 1 533.20,854.70 Z" fill="#DC1C76"/>
<circle cx="716.95" cy="862.10" r="5.4" fill="#fff" stroke="#DC1C76" stroke-width="1.1"/><path d="M711.55,862.10 A5.4,5.4 0 0 1 722.35,862.10 Z" fill="#DC1C76"/>
<circle cx="906.10" cy="864.21" r="5.4" fill="#fff" stroke="#DC1C76" stroke-width="1.1"/><path d="M900.70,864.21 A5.4,5.4 0 0 1 911.50,864.21 Z" fill="#DC1C76"/>
<path d="M187.33,1199.96 L225.16,1136.32 L262.99,1073.48 L300.82,1015.65 L338.65,930.36 L414.31,889.95 L527.80,798.19 L716.95,808.89 L906.10,815.23" fill="none" stroke="#1212C4" stroke-width="3.6" stroke-linejoin="round"/>
<path d="M187.33,1193.46 L193.51,1197.95 L191.15,1205.22 L183.51,1205.22 L181.15,1197.95 Z" fill="#fff" stroke="#1212C4" stroke-width="1.1"/><path d="M181.15,1199.96 L181.15,1197.95 L187.33,1193.46 L193.51,1197.95 L193.50,1199.96 Z" fill="#1212C4"/>
<path d="M225.16,1129.82 L231.34,1134.31 L228.98,1141.58 L221.34,1141.58 L218.98,1134.31 Z" fill="#fff" stroke="#1212C4" stroke-width="1.1"/><path d="M218.98,1136.32 L218.98,1134.31 L225.16,1129.82 L231.34,1134.31 L231.34,1136.32 Z" fill="#1212C4"/>
<path d="M262.99,1066.98 L269.17,1071.47 L266.81,1078.73 L259.17,1078.73 L256.81,1071.47 Z" fill="#fff" stroke="#1212C4" stroke-width="1.1"/><path d="M256.81,1073.48 L256.81,1071.47 L262.99,1066.98 L269.17,1071.47 L269.17,1073.48 Z" fill="#1212C4"/>
<path d="M300.82,1009.15 L307.00,1013.64 L304.64,1020.91 L297.00,1020.91 L294.64,1013.64 Z" fill="#fff" stroke="#1212C4" stroke-width="1.1"/><path d="M294.64,1015.65 L294.64,1013.64 L300.82,1009.15 L307.00,1013.64 L307.00,1015.65 Z" fill="#1212C4"/>
<path d="M338.65,923.86 L344.83,928.35 L342.47,935.61 L334.83,935.61 L332.47,928.35 Z" fill="#fff" stroke="#1212C4" stroke-width="1.1"/><path d="M332.47,930.36 L332.47,928.35 L338.65,923.86 L344.83,928.35 L344.82,930.36 Z" fill="#1212C4"/>
<path d="M414.31,883.45 L420.49,887.95 L418.13,895.21 L410.49,895.21 L408.13,887.95 Z" fill="#fff" stroke="#1212C4" stroke-width="1.1"/><path d="M408.13,889.95 L408.13,887.95 L414.31,883.45 L420.49,887.95 L420.49,889.95 Z" fill="#1212C4"/>
<path d="M527.80,791.69 L533.98,796.18 L531.62,803.45 L523.98,803.45 L521.62,796.18 Z" fill="#fff" stroke="#1212C4" stroke-width="1.1"/><path d="M521.62,798.19 L521.62,796.18 L527.80,791.69 L533.98,796.18 L533.97,798.19 Z" fill="#1212C4"/>
<path d="M716.95,802.39 L723.13,806.88 L720.77,814.15 L713.13,814.15 L710.77,806.88 Z" fill="#fff" stroke="#1212C4" stroke-width="1.1"/><path d="M710.77,808.89 L710.77,806.88 L716.95,802.39 L723.13,806.88 L723.12,808.89 Z" fill="#1212C4"/>
<path d="M906.10,808.73 L912.28,813.22 L909.92,820.48 L902.28,820.48 L899.92,813.22 Z" fill="#fff" stroke="#1212C4" stroke-width="1.1"/><path d="M899.93,815.23 L899.92,813.22 L906.10,808.73 L912.28,813.22 L912.27,815.23 Z" fill="#1212C4"/>
<path d="M187.33,1196.00 L225.16,1129.98 L262.99,1065.95 L300.82,1004.42 L338.65,905.14 L414.31,868.83 L527.80,773.24 L716.95,791.33 L906.10,781.03" fill="none" stroke="#E020E0" stroke-width="3.6" stroke-linejoin="round"/>
<path d="M180.33,1196.00 L187.33,1189.00 L194.33,1196.00 L187.33,1203.00 Z" fill="#fff" stroke="#E020E0" stroke-width="1.1"/><path d="M180.33,1196.00 L187.33,1189.00 L194.33,1196.00 Z" fill="#E020E0"/>
<path d="M218.16,1129.98 L225.16,1122.98 L232.16,1129.98 L225.16,1136.98 Z" fill="#fff" stroke="#E020E0" stroke-width="1.1"/><path d="M218.16,1129.98 L225.16,1122.98 L232.16,1129.98 Z" fill="#E020E0"/>
<path d="M255.99,1065.95 L262.99,1058.95 L269.99,1065.95 L262.99,1072.95 Z" fill="#fff" stroke="#E020E0" stroke-width="1.1"/><path d="M255.99,1065.95 L262.99,1058.95 L269.99,1065.95 Z" fill="#E020E0"/>
<path d="M293.82,1004.42 L300.82,997.42 L307.82,1004.42 L300.82,1011.42 Z" fill="#fff" stroke="#E020E0" stroke-width="1.1"/><path d="M293.82,1004.42 L300.82,997.42 L307.82,1004.42 Z" fill="#E020E0"/>
<path d="M331.65,905.14 L338.65,898.14 L345.65,905.14 L338.65,912.14 Z" fill="#fff" stroke="#E020E0" stroke-width="1.1"/><path d="M331.65,905.14 L338.65,898.14 L345.65,905.14 Z" fill="#E020E0"/>
<path d="M407.31,868.83 L414.31,861.83 L421.31,868.83 L414.31,875.83 Z" fill="#fff" stroke="#E020E0" stroke-width="1.1"/><path d="M407.31,868.83 L414.31,861.83 L421.31,868.83 Z" fill="#E020E0"/>
<path d="M520.80,773.24 L527.80,766.24 L534.80,773.24 L527.80,780.24 Z" fill="#fff" stroke="#E020E0" stroke-width="1.1"/><path d="M520.80,773.24 L527.80,766.24 L534.80,773.24 Z" fill="#E020E0"/>
<path d="M709.95,791.33 L716.95,784.33 L723.95,791.33 L716.95,798.33 Z" fill="#fff" stroke="#E020E0" stroke-width="1.1"/><path d="M709.95,791.33 L716.95,784.33 L723.95,791.33 Z" fill="#E020E0"/>
<path d="M899.10,781.03 L906.10,774.03 L913.10,781.03 L906.10,788.03 Z" fill="#fff" stroke="#E020E0" stroke-width="1.1"/><path d="M899.10,781.03 L906.10,774.03 L913.10,781.03 Z" fill="#E020E0"/>
<path d="M187.33,1198.46 V1201.46 M181.83,1198.46 h11 M181.83,1201.46 h11" stroke="#000" stroke-width="1.8" fill="none"/>
<path d="M187.33,1198.46 V1201.46 M181.83,1198.46 h11 M181.83,1201.46 h11" stroke="#000" stroke-width="1.8" fill="none"/>
<path d="M225.16,1134.32 V1138.32 M219.66,1134.32 h11 M219.66,1138.32 h11" stroke="#000" stroke-width="1.8" fill="none"/>
<path d="M262.99,1068.98 V1077.98 M257.49,1068.98 h11 M257.49,1077.98 h11" stroke="#000" stroke-width="1.8" fill="none"/>
<path d="M262.99,1091.36 V1093.36 M257.49,1091.36 h11 M257.49,1093.36 h11" stroke="#000" stroke-width="1.8" fill="none"/>
<path d="M300.82,1002.42 V1006.42 M295.32,1002.42 h11 M295.32,1006.42 h11" stroke="#000" stroke-width="1.8" fill="none"/>
<path d="M300.82,1012.65 V1018.65 M295.32,1012.65 h11 M295.32,1018.65 h11" stroke="#000" stroke-width="1.8" fill="none"/>
<path d="M300.82,1025.00 V1029.00 M295.32,1025.00 h11 M295.32,1029.00 h11" stroke="#000" stroke-width="1.8" fill="none"/>
<path d="M338.65,932.08 V951.08 M333.15,932.08 h11 M333.15,951.08 h11" stroke="#000" stroke-width="1.8" fill="none"/>
<path d="M527.80,843.90 V865.50 M522.30,843.90 h11 M522.30,865.50 h11" stroke="#000" stroke-width="1.8" fill="none"/>
<path d="M716.95,846.60 V877.60 M711.45,846.60 h11 M711.45,877.60 h11" stroke="#000" stroke-width="1.8" fill="none"/>
<path d="M906.10,863.21 V865.21 M900.60,863.21 h11 M900.60,865.21 h11" stroke="#000" stroke-width="1.8" fill="none"/>
<path d="M527.80,781.19 V815.19 M522.30,781.19 h11 M522.30,815.19 h11" stroke="#000" stroke-width="1.8" fill="none"/>
<path d="M716.95,794.59 V823.19 M711.45,794.59 h11 M711.45,823.19 h11" stroke="#000" stroke-width="1.8" fill="none"/>
<path d="M906.10,809.23 V821.23 M900.60,809.23 h11 M900.60,821.23 h11" stroke="#000" stroke-width="1.8" fill="none"/>
<path d="M414.31,887.95 V891.95 M408.81,887.95 h11 M408.81,891.95 h11" stroke="#000" stroke-width="1.8" fill="none"/>
<path d="M338.65,901.84 V908.44 M333.15,901.84 h11 M333.15,908.44 h11" stroke="#000" stroke-width="1.8" fill="none"/>
<path d="M527.80,771.04 V775.44 M522.30,771.04 h11 M522.30,775.44 h11" stroke="#000" stroke-width="1.8" fill="none"/>
<path d="M716.95,787.33 V795.33 M711.45,787.33 h11 M711.45,795.33 h11" stroke="#000" stroke-width="1.8" fill="none"/>
<path d="M906.10,771.03 V791.03 M900.60,771.03 h11 M900.60,791.03 h11" stroke="#000" stroke-width="1.8" fill="none"/>
<path d="M414.31,866.33 V871.33 M408.81,866.33 h11 M408.81,871.33 h11" stroke="#000" stroke-width="1.8" fill="none"/>
<rect x="148.8" y="707.0" width="795.7" height="535.5999999999999" fill="none" stroke="#000" stroke-width="3.2"/>
<path d="M144.00000000000003,1229.01 H148.8 M139.4,1196.00 H148.8 M144.00000000000003,1162.99 H148.8 M139.4,1129.98 H148.8 M144.00000000000003,1096.98 H148.8 M139.4,1063.97 H148.8 M144.00000000000003,1030.96 H148.8 M139.4,997.95 H148.8 M144.00000000000003,964.95 H148.8 M139.4,931.94 H148.8 M144.00000000000003,898.93 H148.8 M139.4,865.92 H148.8 M144.00000000000003,832.92 H148.8 M139.4,799.91 H148.8 M144.00000000000003,766.90 H148.8 M139.4,733.89 H148.8 M149.50,1242.6 V1251.6 M196.79,1242.6 V1246.9999999999998 M244.07,1242.6 V1251.6 M291.36,1242.6 V1246.9999999999998 M338.65,1242.6 V1251.6 M385.94,1242.6 V1246.9999999999998 M433.22,1242.6 V1251.6 M480.51,1242.6 V1246.9999999999998 M527.80,1242.6 V1251.6 M575.09,1242.6 V1246.9999999999998 M622.38,1242.6 V1251.6 M669.66,1242.6 V1246.9999999999998 M716.95,1242.6 V1251.6 M764.24,1242.6 V1246.9999999999998 M811.52,1242.6 V1251.6 M858.81,1242.6 V1246.9999999999998 M906.10,1242.6 V1251.6" stroke="#000" stroke-width="3" fill="none"/>
<text transform="translate(130.60,1206.20) scale(1.0,1.04)" font-size="33" text-anchor="end">50</text>
<text transform="translate(130.60,1140.18) scale(1.0,1.04)" font-size="33" text-anchor="end">100</text>
<text transform="translate(130.60,1074.17) scale(1.0,1.04)" font-size="33" text-anchor="end">150</text>
<text transform="translate(130.60,1008.15) scale(1.0,1.04)" font-size="33" text-anchor="end">200</text>
<text transform="translate(130.60,942.14) scale(1.0,1.04)" font-size="33" text-anchor="end">250</text>
<text transform="translate(130.60,876.12) scale(1.0,1.04)" font-size="33" text-anchor="end">300</text>
<text transform="translate(130.60,810.11) scale(1.0,1.04)" font-size="33" text-anchor="end">350</text>
<text transform="translate(130.60,744.10) scale(1.0,1.04)" font-size="33" text-anchor="end">400</text>
<text transform="translate(149.50,1285.80) scale(1.0,1.04)" font-size="33" text-anchor="middle">0</text>
<text transform="translate(244.07,1285.80) scale(1.0,1.04)" font-size="33" text-anchor="middle">50</text>
<text transform="translate(338.65,1285.80) scale(1.0,1.04)" font-size="33" text-anchor="middle">100</text>
<text transform="translate(433.22,1285.80) scale(1.0,1.04)" font-size="33" text-anchor="middle">150</text>
<text transform="translate(527.80,1285.80) scale(1.0,1.04)" font-size="33" text-anchor="middle">200</text>
<text transform="translate(622.38,1285.80) scale(1.0,1.04)" font-size="33" text-anchor="middle">250</text>
<text transform="translate(716.95,1285.80) scale(1.0,1.04)" font-size="33" text-anchor="middle">300</text>
<text transform="translate(811.52,1285.80) scale(1.0,1.04)" font-size="33" text-anchor="middle">350</text>
<text transform="translate(906.10,1285.80) scale(1.0,1.04)" font-size="33" text-anchor="middle">400</text>
<text transform="translate(460.50,1330.30) scale(1.0,1.0)" font-size="38">C<tspan font-size="26.5" dy="11">0</tspan><tspan dy="-11"> (mg/L)</tspan></text>
<text transform="translate(49.8,1042) rotate(-90)" font-size="38.6">q<tspan font-size="27.5" dy="11">e</tspan><tspan dy="-11"> (mg/g)</tspan></text>
<text transform="translate(16.00,743.00) scale(1.0,1.0)" font-size="44.7">(b)</text>
<rect x="606.7" y="1006.4" width="158" height="148" fill="#fff" stroke="#000" stroke-width="1.4"/>
<path d="M619.4,1044.2 H662.4" stroke="#DC1C76" stroke-width="3.4" stroke-linecap="round"/>
<circle cx="640.60" cy="1044.20" r="5.9" fill="#fff" stroke="#DC1C76" stroke-width="1.1"/><path d="M634.70,1044.20 A5.9,5.9 0 0 1 646.50,1044.20 Z" fill="#DC1C76"/>
<text transform="translate(672.50,1050.70) scale(1.0,1.04)" font-size="33.5">298K</text>
<path d="M619.4,1086.5 H662.4" stroke="#1212C4" stroke-width="3.4" stroke-linecap="round"/>
<path d="M640.60,1079.50 L647.26,1084.34 L644.71,1092.16 L636.49,1092.16 L633.94,1084.34 Z" fill="#fff" stroke="#1212C4" stroke-width="1.1"/><path d="M633.95,1086.50 L633.94,1084.34 L640.60,1079.50 L647.26,1084.34 L647.25,1086.50 Z" fill="#1212C4"/>
<text transform="translate(672.50,1093.00) scale(1.0,1.04)" font-size="33.5">308K</text>
<path d="M619.4,1129 H662.4" stroke="#E020E0" stroke-width="3.4" stroke-linecap="round"/>
<path d="M633.60,1129.00 L640.60,1122.00 L647.60,1129.00 L640.60,1136.00 Z" fill="#fff" stroke="#E020E0" stroke-width="1.1"/><path d="M633.60,1129.00 L640.60,1122.00 L647.60,1129.00 Z" fill="#E020E0"/>
<text transform="translate(672.50,1135.40) scale(1.0,1.04)" font-size="33.5">318K</text>
</svg>
</body></html>
